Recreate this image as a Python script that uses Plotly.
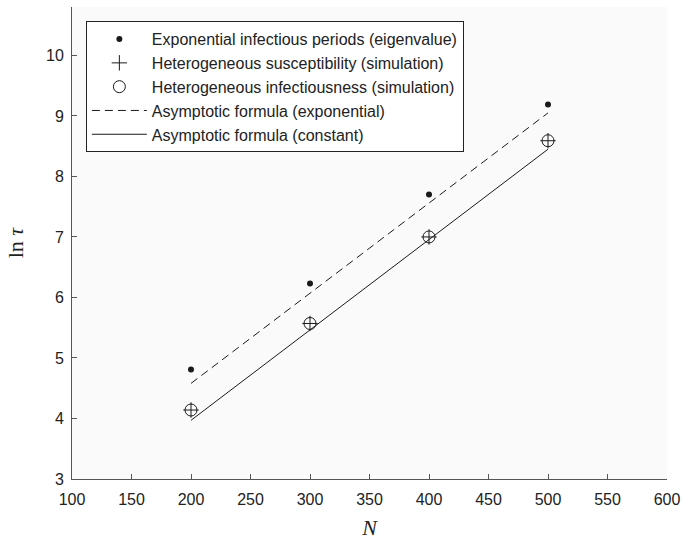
import plotly.graph_objects as go

N = [200, 300, 400, 500]
eig_exp = [4.81, 6.23, 7.70, 9.19]
sim_susc = [4.14, 5.57, 7.00, 8.59]
sim_inf = [4.14, 5.57, 7.00, 8.59]
asym_exp = [4.58, 6.07, 7.56, 9.05]
asym_const = [3.97, 5.46, 6.96, 8.45]

x_ticks = [100, 150, 200, 250, 300, 350, 400, 450, 500, 550, 600]
y_ticks = [3, 4, 5, 6, 7, 8, 9, 10]

ink = "#1a1a1a"
fig = go.Figure()
fig.add_trace(go.Scatter(x=N, y=eig_exp, mode="markers", name="Exponential infectious periods (eigenvalue)",
                         marker=dict(symbol="circle", size=6, color=ink)))
fig.add_trace(go.Scatter(x=N, y=sim_susc, mode="markers", name="Heterogeneous susceptibility (simulation)",
                         marker=dict(symbol="cross-thin", size=11, color=ink, line=dict(color=ink, width=1))))
fig.add_trace(go.Scatter(x=N, y=sim_inf, mode="markers", name="Heterogeneous infectiousness (simulation)",
                         marker=dict(symbol="circle-open", size=12, color=ink, line=dict(color=ink, width=1))))
fig.add_trace(go.Scatter(x=N, y=asym_exp, mode="lines", name="Asymptotic formula (exponential)",
                         line=dict(color=ink, width=1, dash="8px,5px")))
fig.add_trace(go.Scatter(x=N, y=asym_const, mode="lines", name="Asymptotic formula (constant)",
                         line=dict(color=ink, width=1)))

axis_common = dict(showgrid=False, zeroline=False, showline=True, linecolor="#555", linewidth=1,
                   ticks="inside", ticklen=5, tickcolor="#555", mirror=False,
                   tickfont=dict(family="Liberation Sans, Arial", size=16, color="#222"))

fig.update_layout(
    width=687, height=543,
    margin=dict(l=72, r=15, t=7, b=63),
    paper_bgcolor="white", plot_bgcolor="#fafafa",
    showlegend=True,
    legend=dict(x=0.0233, y=0.970, xanchor="left", yanchor="top",
                bgcolor="white", bordercolor="#222", borderwidth=1,
                font=dict(family="Liberation Sans, Arial", size=16, color="#222"),
                tracegroupgap=0, itemwidth=55),
    xaxis=dict(range=[100, 600], tickvals=x_ticks, ticktext=[str(v) for v in x_ticks],
               ticklabelstandoff=6,
               title=dict(text="<i>N</i>", font=dict(family="Liberation Serif, DejaVu Serif", size=22, color="#222"), standoff=12),
               **axis_common),
    yaxis=dict(range=[3, 10.8], tickvals=y_ticks, ticktext=[str(v) for v in y_ticks],
               ticklabelstandoff=4,
               title=dict(text="ln <i>τ</i>", font=dict(family="Liberation Serif, DejaVu Serif", size=22, color="#222"), standoff=16),
               **axis_common),
)

fig.write_html("out.html")
